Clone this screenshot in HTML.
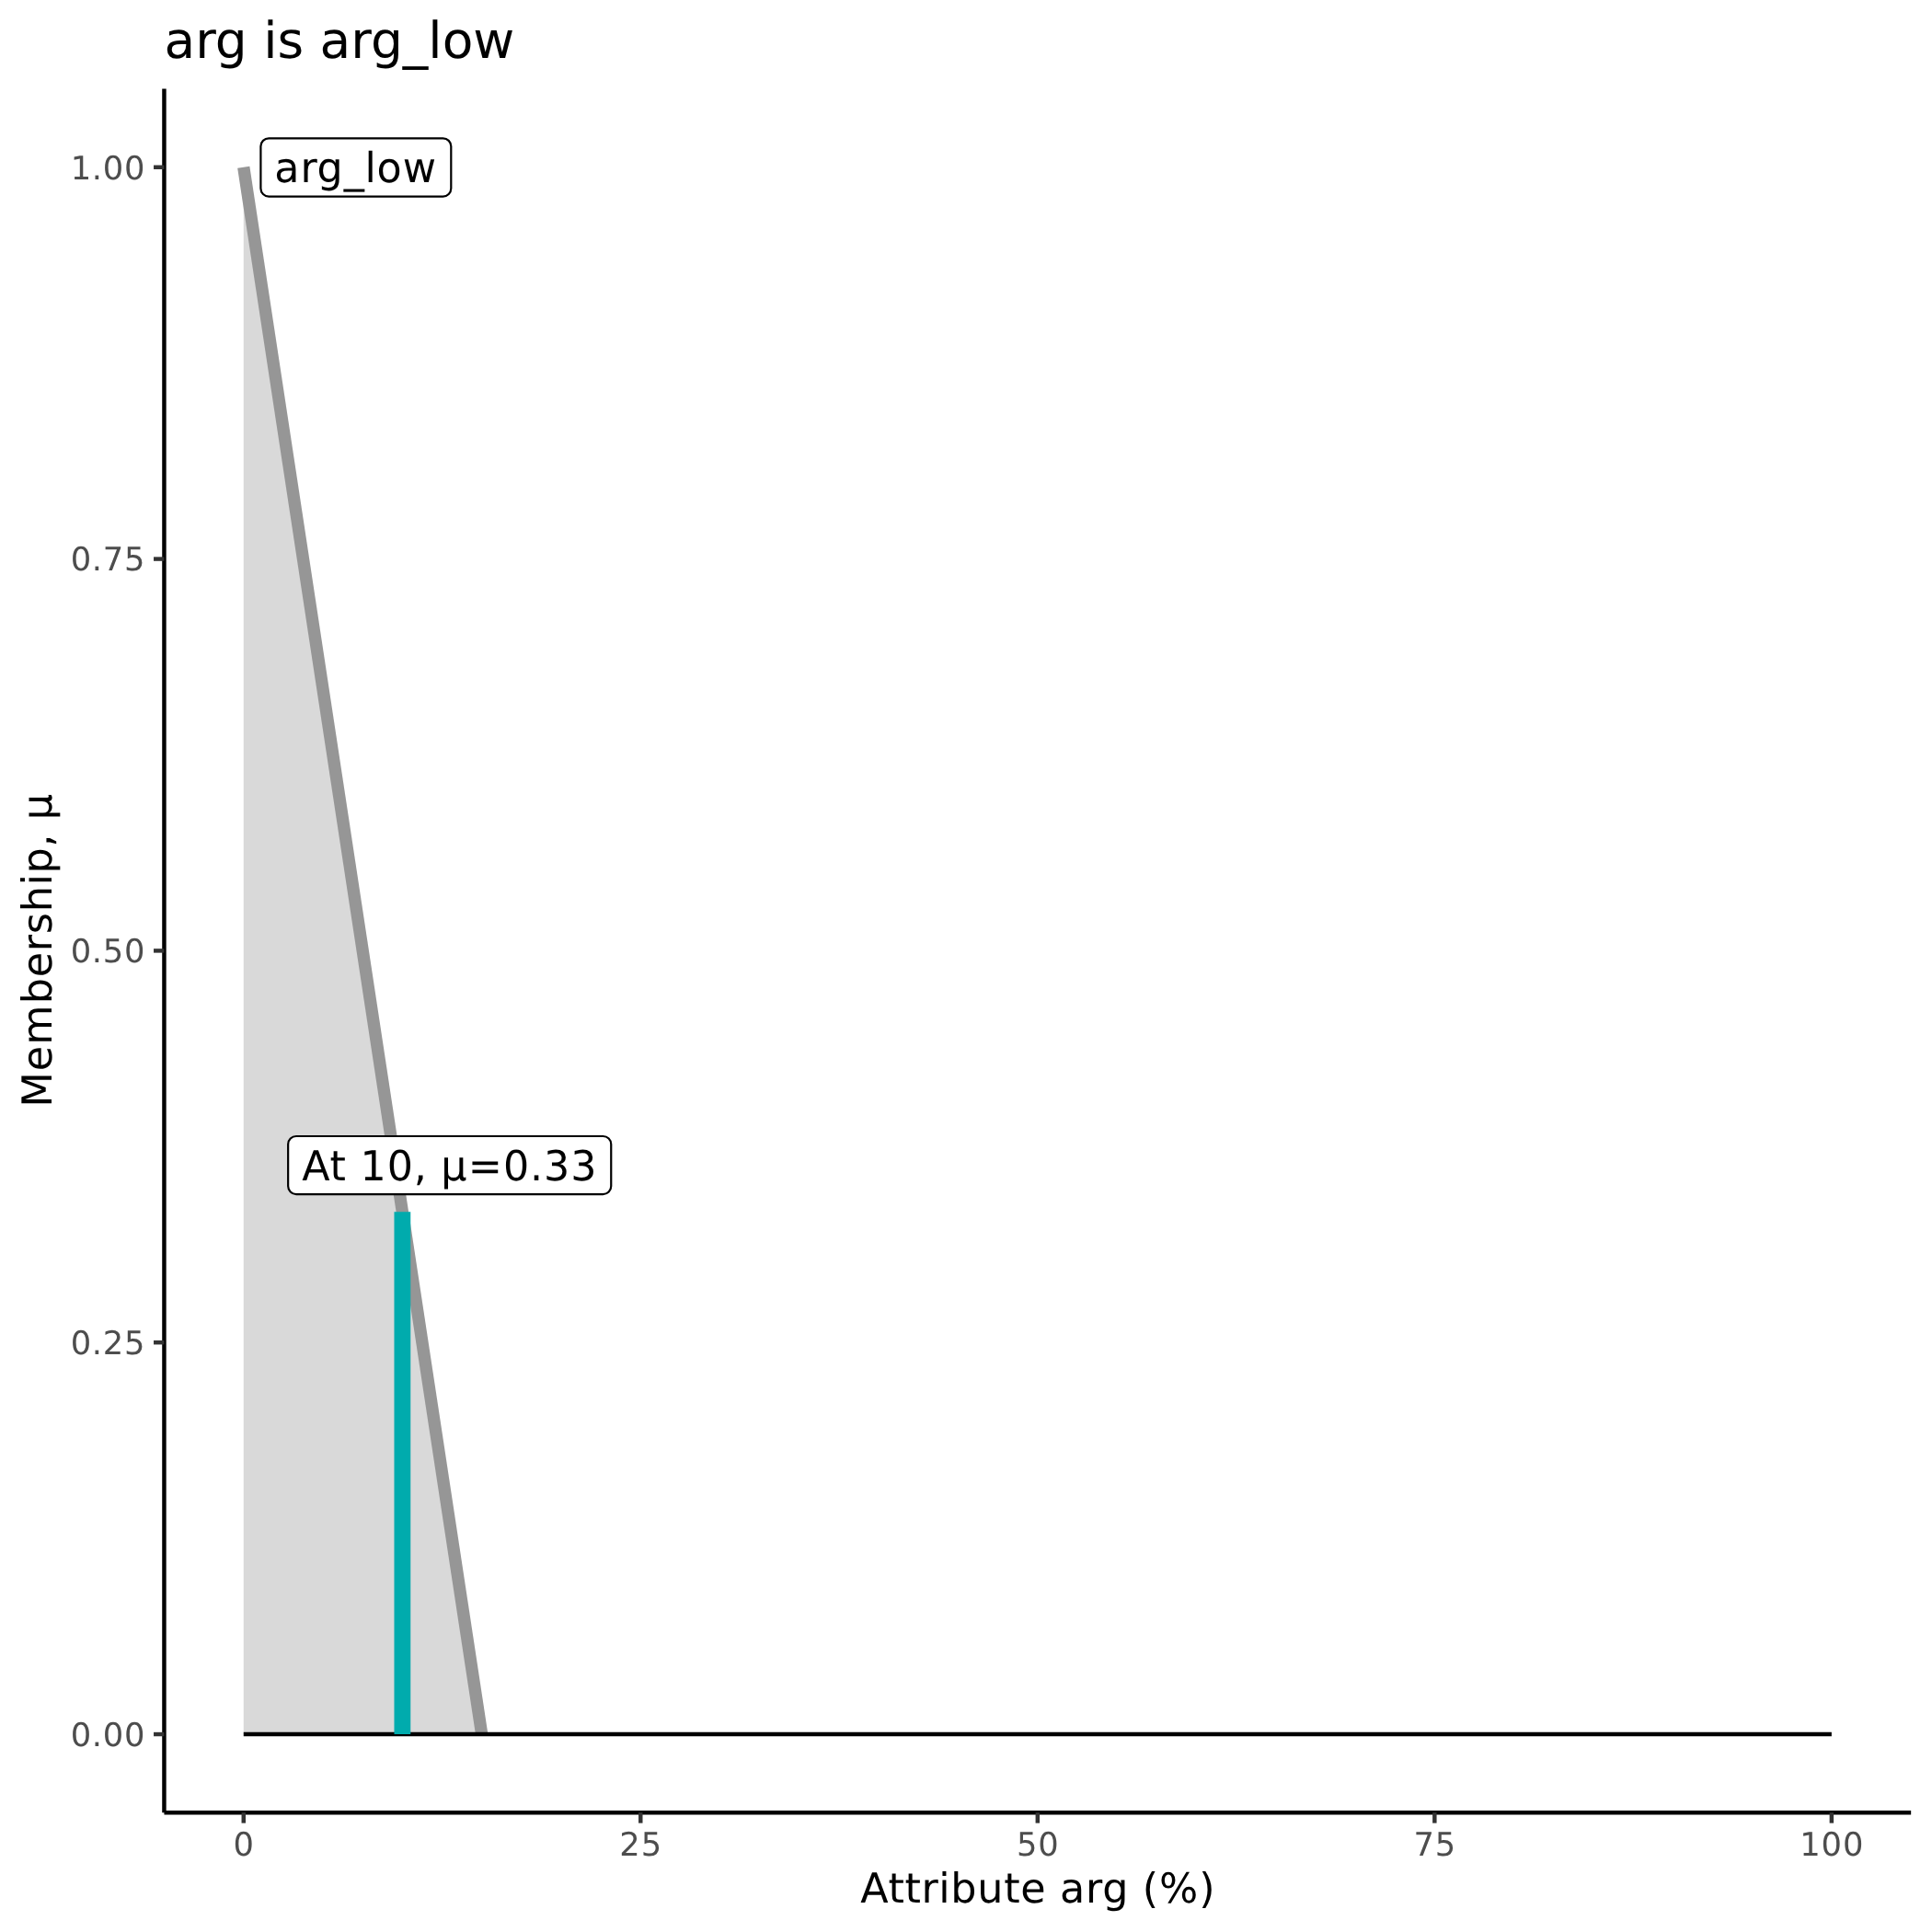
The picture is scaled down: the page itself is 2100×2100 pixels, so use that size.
<!DOCTYPE html>
<html><head><meta charset="utf-8"><title>arg is arg_low</title>
<style>
html,body{margin:0;padding:0;background:#fff;}
svg{display:block;will-change:transform;}
text{font-family:"DejaVu Sans","Liberation Sans",sans-serif;text-rendering:geometricPrecision;font-kerning:none;}
</style></head>
<body>
<svg width="2100" height="2100" viewBox="0 0 2100 2100">
<rect x="0" y="0" width="2100" height="2100" fill="#fff"/>
<polygon points="264.76,1885.04 264.76,181.76 523.67,1885.04" fill="#D9D9D9"/>
<line x1="264.76" y1="181.76" x2="523.67" y2="1885.04" stroke="#969696" stroke-width="13.34"/>
<line x1="264.76" y1="1885.04" x2="1990.86" y2="1885.04" stroke="#000" stroke-width="4.45"/>
<line x1="437.37" y1="1885.04" x2="437.37" y2="1317.28" stroke="#00ABAD" stroke-width="17.78"/>
<rect x="283.4" y="150.3" width="206.9" height="63.35" rx="8.8" ry="8.8" fill="#fff" stroke="#000" stroke-width="2.2"/>
<text x="302.90 331.47 349.92 379.50 402.67 415.92 444.67" y="198.00" font-size="45.080px" transform="scale(0.9847,1)">arg_low</text>
<rect x="313.15" y="1235.0" width="351.1" height="63.1" rx="8.8" ry="8.8" fill="#fff" stroke="#000" stroke-width="2.2"/>
<text x="333.25 364.15 382.40 397.52 427.23 456.67 471.54 486.70 516.54 555.51 584.96 600.08 629.80" y="1283.00" font-size="45.080px" transform="scale(0.9847,1)">At 10, μ=0.33</text>
<line x1="178.45" y1="96.6" x2="178.45" y2="1970.2" stroke="#000" stroke-width="4.45"/>
<line x1="178.45" y1="1970.2" x2="2077.17" y2="1970.2" stroke="#000" stroke-width="4.45"/>
<line x1="167.03" y1="1885.04" x2="178.45" y2="1885.04" stroke="#333333" stroke-width="4.45"/>
<text x="76.69 99.80 111.66 134.98" y="1898.00" font-size="35.350px" fill="#4D4D4D">0.00</text>
<line x1="167.03" y1="1459.22" x2="178.45" y2="1459.22" stroke="#333333" stroke-width="4.45"/>
<text x="76.69 99.80 111.65 134.97" y="1472.00" font-size="35.350px" fill="#4D4D4D">0.25</text>
<line x1="167.03" y1="1033.40" x2="178.45" y2="1033.40" stroke="#333333" stroke-width="4.45"/>
<text x="76.69 99.80 111.66 134.98" y="1046.00" font-size="35.350px" fill="#4D4D4D">0.50</text>
<line x1="167.03" y1="607.58" x2="178.45" y2="607.58" stroke="#333333" stroke-width="4.45"/>
<text x="76.69 99.80 111.66 134.97" y="620.00" font-size="35.350px" fill="#4D4D4D">0.75</text>
<line x1="167.03" y1="181.76" x2="178.45" y2="181.76" stroke="#333333" stroke-width="4.45"/>
<text x="76.71 99.80 111.66 134.98" y="195.00" font-size="35.350px" fill="#4D4D4D">1.00</text>
<line x1="264.76" y1="1970.2" x2="264.76" y2="1981.62" stroke="#333333" stroke-width="4.45"/>
<text x="253.51" y="2017.00" font-size="35.350px" fill="#4D4D4D">0</text>
<line x1="696.28" y1="1970.2" x2="696.28" y2="1981.62" stroke="#333333" stroke-width="4.45"/>
<text x="673.36 696.68" y="2017.00" font-size="35.350px" fill="#4D4D4D">25</text>
<line x1="1127.81" y1="1970.2" x2="1127.81" y2="1981.62" stroke="#333333" stroke-width="4.45"/>
<text x="1104.90 1128.21" y="2017.00" font-size="35.350px" fill="#4D4D4D">50</text>
<line x1="1559.34" y1="1970.2" x2="1559.34" y2="1981.62" stroke="#333333" stroke-width="4.45"/>
<text x="1536.43 1559.73" y="2017.00" font-size="35.350px" fill="#4D4D4D">75</text>
<line x1="1990.86" y1="1970.2" x2="1990.86" y2="1981.62" stroke="#333333" stroke-width="4.45"/>
<text x="1956.31 1979.61 2002.94" y="2017.00" font-size="35.350px" fill="#4D4D4D">100</text>
<text x="942.99 973.57 991.69 1009.88 1028.72 1041.83 1071.14 1100.26 1118.53 1146.74 1161.63 1189.88 1208.13 1237.27 1252.00 1270.43 1313.92" y="2068.00" font-size="44.822px" transform="scale(0.9918,1)">Attribute arg (%)</text>
<g transform="translate(55.6,1033.40) rotate(-90)"><text x="-171.58 -131.90 -103.21 -58.42 -29.13 -0.78 18.24 42.39 71.42 84.54 113.59 128.31 143.25" y="0.00" font-size="44.822px" transform="scale(0.9918,1)">Membership, μ</text></g>
<text x="178.45 212.15 233.79 268.70 286.18 301.47 330.12 347.61 381.31 402.95 437.87 465.37 480.65 514.29" y="63.00" font-size="55.000px">arg is arg_low</text>
</svg>
</body></html>
